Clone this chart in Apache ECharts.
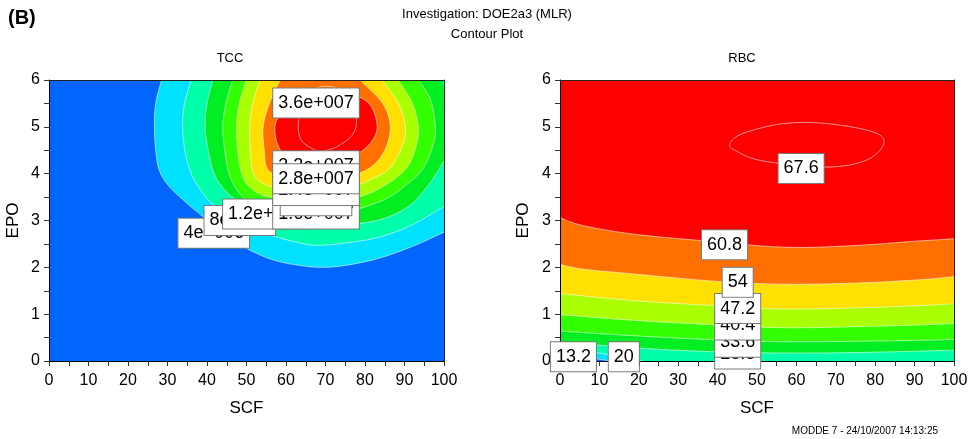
<!DOCTYPE html>
<html>
<head>
<meta charset="utf-8">
<title>Contour Plot</title>
<script src="https://cdn.jsdelivr.net/npm/echarts@6/dist/echarts.min.js"></script>
<style>
    html, body { margin: 0; padding: 0; background: #fff; }
    #main { width: 975px; height: 439px; }
</style>
</head>
<body>
<div id="main"></div>
<script>
// contour levels of the two responses
var tccLevels = [4e6, 8e6, 1.2e7, 1.6e7, 2e7, 2.4e7, 2.8e7, 3.2e7, 3.6e7];
var rbcLevels = [13.2, 20, 26.8, 33.6, 40.4, 47.2, 54, 60.8, 67.6];
// fill above each level (last level is only a line)
var bandColors = ['#00e0ff', '#00ffaa', '#00ee22', '#33ff00', '#aaff00', '#ffe000', '#ff7000', '#ff0000', null];
var baseColor = '#0066ff';

// contour lines, points are [SCF, EPO]
var tccLines = [
    [[28.5, 6], [27, 5.5], [26.7, 5], [27, 4.5], [28, 4.05], [30.5, 3.72], [34.5, 3.4], [39, 3.08], [44, 2.72], [50.8, 2.37], [57, 2.15], [63.5, 2.04], [69, 2.0], [75, 2.04], [83.4, 2.19], [91.8, 2.44], [100, 2.75]],
    [[36, 6], [34.3, 5.5], [33.8, 5], [34.5, 4.45], [36, 4.0], [38, 3.7], [40.5, 3.42], [44, 3.18], [48.3, 2.98], [53, 2.78], [57.6, 2.65], [63.5, 2.52], [68, 2.47], [75, 2.52], [83.4, 2.64], [91.8, 2.9], [100, 3.3]],
    [[41.5, 6], [40, 5.5], [39.5, 5], [40.3, 4.5], [41.8, 4.0], [45, 3.6], [50, 3.3], [54.9, 3.14], [60, 3.0], [68, 2.9], [76, 2.92], [84, 3.02], [91, 3.3], [96, 3.75], [100, 4.27]],
    [[46.5, 6], [44.8, 5.5], [44, 5], [44.5, 4.5], [45.6, 4.0], [48, 3.6], [52, 3.32], [58, 3.18], [67.6, 3.14], [76, 3.2], [85, 3.45], [91, 3.8], [94.8, 4.12], [97.2, 4.6], [97.8, 5.0], [96.5, 5.6], [93.5, 6]],
    [[50, 6], [48.2, 5.5], [47.5, 5], [47.8, 4.5], [48.8, 4.0], [51, 3.7], [56, 3.5], [67.6, 3.42], [78, 3.5], [85, 3.75], [90.5, 4.12], [93, 4.6], [93.5, 5.0], [92, 5.5], [88.4, 6]],
    [[53.4, 6], [51.6, 5.5], [50.8, 5], [51, 4.5], [51.8, 4.0], [55, 3.76], [60, 3.67], [67.6, 3.64], [76, 3.7], [82, 3.9], [86.3, 4.12], [89.5, 4.6], [90.2, 5.0], [88.5, 5.5], [84.2, 6]],
    [[58.5, 6], [55.8, 5.5], [54.2, 5], [54.5, 4.5], [55.3, 4.1], [59, 3.95], [67.6, 3.89], [75, 3.93], [81.2, 4.12], [85, 4.5], [86.4, 5], [84.5, 5.5], [78.7, 6]],
    [[57.2, 5], [58, 4.6], [61, 4.3], [67.6, 4.17], [74, 4.25], [79.5, 4.5], [82.5, 4.8], [83, 5.1], [81, 5.5], [76, 5.72], [70, 5.78], [64, 5.58], [59, 5.3]],
    [[63.1, 5.0], [64, 4.7], [67, 4.52], [69, 4.48], [73, 4.58], [77, 4.85], [77.8, 5.2], [76.2, 5.6], [72, 5.85], [67, 5.8], [64, 5.45]]
];
// frame corners that close each region, null = closed curve
var tccEdges = [[[100, 6]], [[100, 6]], [[100, 5.8], [99.4, 6]], [], [], [], [], null, null];

var rbcLines = [
    [[0, 0.12], [6, 0.08], [10.5, 0.03], [12.5, 0]],
    [[0, 0.27], [6, 0.21], [10.5, 0.16], [16.2, 0.08], [21, 0]],
    [[0, 0.39], [11.4, 0.33], [25, 0.25], [38.5, 0.2], [56.7, 0.17], [75, 0.18], [100, 0.23]],
    [[0, 0.64], [18.6, 0.54], [39.8, 0.45], [56.7, 0.41], [73.6, 0.42], [90.5, 0.44], [100, 0.46]],
    [[0, 0.99], [18.6, 0.87], [39.8, 0.77], [56.7, 0.71], [73.6, 0.73], [90.5, 0.77], [100, 0.8]],
    [[0, 1.44], [18.6, 1.29], [39.8, 1.18], [56.7, 1.11], [73.6, 1.13], [90.5, 1.18], [100, 1.22]],
    [[0, 2.06], [5.9, 1.96], [18.6, 1.86], [39.8, 1.7], [56.7, 1.64], [73.6, 1.66], [90.5, 1.73], [100, 1.8]],
    [[0, 3.06], [5.9, 2.89], [18.6, 2.71], [36, 2.57], [56.7, 2.43], [73.6, 2.46], [90.5, 2.56], [100, 2.61]],
    [[43.1, 4.64], [46.5, 4.86], [56.7, 5.07], [67.7, 5.07], [79.5, 4.89], [82.2, 4.64], [77.8, 4.29], [67.7, 4.14], [51.6, 4.27], [44.8, 4.48]]
];
var rbcEdges = [
    [[100, 0], [100, 6], [0, 6]], [[100, 0], [100, 6], [0, 6]],
    [[100, 6], [0, 6]], [[100, 6], [0, 6]], [[100, 6], [0, 6]], [[100, 6], [0, 6]],
    [[100, 6], [0, 6]], [[100, 6], [0, 6]], null
];

// label boxes: [SCF, EPO, level], in drawing order
var tccLabels = [[67.6, 5.51, 3.6e7], [67.6, 4.17, 3.2e7], [41.7, 2.73, 4e6], [48.3, 3.0, 8e6], [54.9, 3.14, 1.2e7],
    [67.6, 3.14, 1.6e7], [67.6, 3.42, 2e7], [67.6, 3.64, 2.4e7], [67.6, 3.89, 2.8e7]];
var rbcLabels = [[3.4, 0.09, 13.2], [16.2, 0.09, 20], [45.1, 0.15, 26.8], [45.1, 0.40, 33.6], [45.1, 0.77, 40.4],
    [45.1, 1.12, 47.2], [45.1, 1.68, 54], [41.75, 2.48, 60.8], [61.2, 4.11, 67.6]];

var FONT = 'Liberation Sans, Arial, sans-serif';

// catmull-rom through screen points -> svg path
function spline(pts, closed) {
    var n = pts.length;
    var d = 'M' + pts[0][0] + ',' + pts[0][1];
    var last = closed ? n : n - 1;
    for (var i = 0; i < last; i++) {
        var p0 = pts[closed ? (i - 1 + n) % n : Math.max(i - 1, 0)];
        var p1 = pts[i % n];
        var p2 = pts[(i + 1) % n];
        var p3 = pts[closed ? (i + 2) % n : Math.min(i + 2, n - 1)];
        d += ' C' + (p1[0] + (p2[0] - p0[0]) / 6) + ',' + (p1[1] + (p2[1] - p0[1]) / 6) +
            ' ' + (p2[0] - (p3[0] - p1[0]) / 6) + ',' + (p2[1] - (p3[1] - p1[1]) / 6) +
            ' ' + p2[0] + ',' + p2[1];
    }
    return d;
}

function contourSeries(idx, lines, edges) {
    return {
        type: 'custom',
        xAxisIndex: idx,
        yAxisIndex: idx,
        clip: true,
        silent: true,
        z: 2,
        data: lines.map(function (l) { return l[0]; }),
        renderItem: function (params, api) {
            var i = params.dataIndex;
            var pts = lines[i].map(function (p) { return api.coord(p); });
            var edge = edges[i];
            var closed = edge === null;
            var line = spline(pts, closed);
            var children = [];
            if (bandColors[i]) {
                var tail = closed ? '' : edge.map(function (p) {
                    var c = api.coord(p);
                    return ' L' + c[0] + ',' + c[1];
                }).join('');
                children.push({
                    type: 'path',
                    shape: { pathData: line + tail + ' Z' },
                    style: { fill: bandColors[i], stroke: null }
                });
            }
            children.push({
                type: 'path',
                shape: { pathData: line + (closed ? ' Z' : '') },
                style: { fill: null, stroke: 'rgba(255,255,255,0.7)', lineWidth: 0.8 }
            });
            return { type: 'group', children: children };
        }
    };
}

function fmtTcc(v) {
    return v.toExponential().replace(/e\+(\d+)/, function (m, d) {
        return 'e+' + ('000' + d).slice(-3);
    });
}

function labelSeries(idx, labels, fmt) {
    return {
        type: 'scatter',
        xAxisIndex: idx,
        yAxisIndex: idx,
        silent: true,
        clip: false,
        z: 20,
        symbolSize: 1,
        itemStyle: { color: 'rgba(0,0,0,0)', opacity: 1 },
        data: labels,
        label: {
            show: true,
            position: 'inside',
            formatter: function (p) { return fmt(p.data[2]); },
            fontFamily: FONT,
            fontSize: 18,
            lineHeight: 20,
            color: '#000',
            opacity: 1,
            backgroundColor: '#fff',
            borderColor: '#7a7a7a',
            borderWidth: 1,
            padding: [5, 5, 4, 5]
        }
    };
}

function bottomAxis(idx) {
    return {
        gridIndex: idx, type: 'value', min: 0, max: 100, interval: 10, z: 5,
        name: 'SCF', nameLocation: 'middle', nameGap: 39,
        nameTextStyle: { fontFamily: FONT, fontSize: 17, color: '#000' },
        axisLine: { onZero: false, lineStyle: { color: '#000', width: 1 } },
        axisTick: { length: 5, lineStyle: { color: '#333' } },
        minorTick: { show: true, splitNumber: 2, length: 5, lineStyle: { color: '#333' } },
        splitLine: { show: false },
        axisLabel: { fontFamily: FONT, fontSize: 16, color: '#000', margin: 12 }
    };
}

function leftAxis(idx, gap) {
    return {
        gridIndex: idx, type: 'value', min: 0, max: 6, interval: 1, z: 5,
        name: 'EPO', nameLocation: 'middle', nameGap: gap,
        nameTextStyle: { fontFamily: FONT, fontSize: 17, color: '#000' },
        axisLine: { onZero: false, lineStyle: { color: '#000', width: 1 } },
        axisTick: { length: 5, lineStyle: { color: '#333' } },
        minorTick: { show: true, splitNumber: 2, length: 5, lineStyle: { color: '#333' } },
        splitLine: { show: false },
        axisLabel: { fontFamily: FONT, fontSize: 16, color: '#000', margin: 9 }
    };
}

function frameAxis(idx, pos, max) {
    return {
        gridIndex: idx, type: 'value', position: pos, min: 0, max: max, z: 5,
        axisLine: { show: true, onZero: false, lineStyle: { color: '#222', width: 1 } },
        axisTick: { show: false }, axisLabel: { show: false }, splitLine: { show: false }
    };
}

var chart = echarts.init(document.getElementById('main'), null, { renderer: 'canvas' });

var option = {
    animation: false,
    backgroundColor: '#fff',
    textStyle: { fontFamily: FONT },
    grid: [
        { left: 49, top: 80, width: 395, height: 281, show: true, backgroundColor: baseColor, borderWidth: 0 },
        { left: 560, top: 80, width: 394, height: 281, show: true, backgroundColor: baseColor, borderWidth: 0 }
    ],
    xAxis: [bottomAxis(0), bottomAxis(1), frameAxis(0, 'top', 100), frameAxis(1, 'top', 100)],
    yAxis: [leftAxis(0, 27), leftAxis(1, 28), frameAxis(0, 'right', 6), frameAxis(1, 'right', 6)],
    graphic: [
        { type: 'text', x: 8, y: 8, style: { text: '(B)', fontFamily: FONT, fontSize: 20, fontWeight: 'bold', fill: '#000' } },
        { type: 'text', x: 487, y: 14, style: { text: 'Investigation: DOE2a3 (MLR)', fontFamily: FONT, fontSize: 13, fill: '#000', align: 'center', verticalAlign: 'middle' } },
        { type: 'text', x: 487, y: 34, style: { text: 'Contour Plot', fontFamily: FONT, fontSize: 13, fill: '#000', align: 'center', verticalAlign: 'middle' } },
        { type: 'text', x: 230, y: 58, style: { text: 'TCC', fontFamily: FONT, fontSize: 13, fill: '#000', align: 'center', verticalAlign: 'middle' } },
        { type: 'text', x: 742, y: 58, style: { text: 'RBC', fontFamily: FONT, fontSize: 13, fill: '#000', align: 'center', verticalAlign: 'middle' } },
        { type: 'text', x: 938, y: 431, style: { text: 'MODDE 7 - 24/10/2007 14:13:25', fontFamily: FONT, fontSize: 10, fill: '#000', align: 'right', verticalAlign: 'middle' } }
    ],
    series: [
        contourSeries(0, tccLines, tccEdges),
        contourSeries(1, rbcLines, rbcEdges),
        labelSeries(0, tccLabels, fmtTcc),
        labelSeries(1, rbcLabels, function (v) { return String(v); })
    ]
};

chart.setOption(option);
</script>
</body>
</html>
